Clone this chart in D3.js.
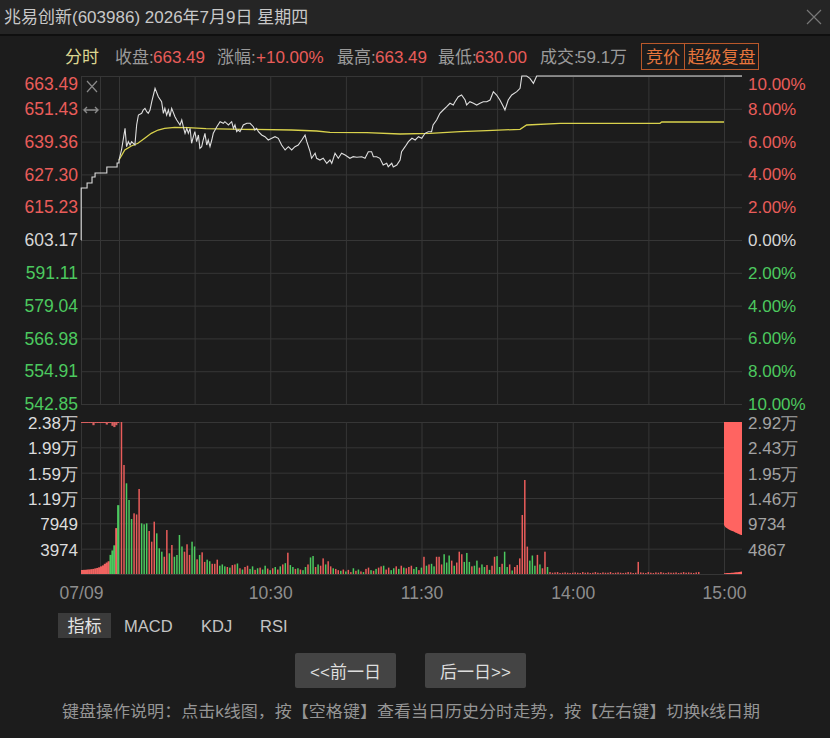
<!DOCTYPE html>
<html>
<head>
<meta charset="utf-8">
<style>
    body { margin: 0; background: #1c1c1c; }
    svg { display: block; font-family: "Liberation Sans", "Noto Sans CJK SC", sans-serif; }
    .domain { display: none; }
    .grid .tick line { stroke: #363636; }
    .grid text { display: none; }
    .lbl .tick line { display: none; }
</style>
</head>
<body>
<svg width="830" height="738"></svg>
<script src="https://d3js.org/d3.v7.min.js"></script>
<script>
// price axis (prev close 603.17, +-10%)
const priceTicks = [663.49, 651.43, 639.36, 627.30, 615.23, 603.17, 591.11, 579.04, 566.98, 554.91, 542.85];
const pctLabels = ["10.00%", "8.00%", "6.00%", "4.00%", "2.00%", "0.00%", "2.00%", "4.00%", "6.00%", "8.00%", "10.00%"];
const volTicks = [3974, 7949, 11923, 15898, 19872, 23847];
const volLabels = ["3974", "7949", "1.19万", "1.59万", "1.99万", "2.38万"];
const postVolTicks = [4867, 9734, 14601, 19468, 24335, 29202];
const postVolLabels = ["4867", "9734", "1.46万", "1.95万", "2.43万", "2.92万"];
const timeTicks = [60, 120, 180, 240];
const timeLabels = ["10:30", "11:30", "14:00", "15:00"];

// call auction 9:15-9:25 (minutes since 9:15)
const aucPriceTimes = [0, 0.05, 1.6, 2.9, 3.7, 6.8, 9.5, 10];
const aucPrices = [603.17, 622.30, 624.14, 626.34, 627.82, 630.02, 631.49, 632.59];
const aucTimes = [0, 0.5, 1, 1.5, 2, 2.5, 3, 3.5, 4, 4.5, 5, 5.5, 6, 6.5, 7, 7.5, 8, 8.5, 9, 9.5];
const aucVol = [630, 650, 660, 700, 720, 760, 800, 880, 950, 1050, 1200, 1350, 1600, 1800, 2000, 3000, 3700, 4500, 7200, 10800];
const aucDir = "rrrrrrrrrrrrrrrgggrg";
const aucUnmatched = [160, 160, 160, 160, 160, 160, 500, 160, 160, 160, 160, 160, 160, 400, 160, 160, 600, 800, 500, 160];

// intraday price (minutes since 9:30, lunch break removed)
const priceTimes = [0, 1, 2.4, 3, 3.7, 4.4, 5, 6.3, 7, 7.7, 9, 9.6, 10.3, 11, 11.6, 12.3, 13, 14.3, 15.6, 16.9,
    17.6, 18.2, 18.9, 19.6, 20.2, 20.9, 22.2, 22.9, 24.2, 24.9, 25.5, 26.2, 26.9, 27.5, 28.2, 28.8, 29.5, 30.1, 30.8, 31.5,
    32.1, 32.8, 33.4, 34.1, 34.8, 35.4, 36.1, 36.8, 37.4, 38.8, 40.1, 41.4, 42, 43.4, 44, 44.7, 45.4, 46, 46.7, 47.3,
    48, 48.7, 49.3, 50.7, 52, 53.3, 53.9, 54.6, 55.3, 56.6, 57.9, 59.2, 60.6, 61.9, 63.2, 64.5, 65.9, 67.2, 68.5, 69.8,
    71.1, 72.5, 73.8, 74.5, 75.8, 76.4, 77.8, 78.4, 79.7, 81, 82.4, 83.7, 84.4, 85.7, 87, 88.3, 89.7, 91.6, 92.9, 94.3,
    96.3, 97.6, 98.9, 100.2, 100.9, 102.2, 103.5, 104.8, 106.2, 106.8, 108.2, 108.8, 110.2, 111.5, 112.1, 113.5, 114.8, 116.2, 117.5, 118.8,
    120.1, 121.4, 122.7, 124, 124.6, 126, 127.3, 128.6, 130, 131.3, 132.6, 133.3, 134.6, 135.9, 137.3, 137.9, 139.2, 140.6, 141.9, 143.2,
    144.5, 145.9, 147.2, 148.5, 149.8, 151.1, 152.5, 153.1, 154.4, 155.8, 157.8, 159.1, 159.8, 161.7, 163, 164.4, 165.7, 240];
const prices = [632.59, 636.27, 644.25, 637.49, 639.33, 638.11, 639.33, 638.11, 645.47, 649.14, 649.77, 650.98, 651.61, 650.36, 649.77, 650.98, 654.04, 658.97, 655.88, 654.04,
    649.77, 651.61, 649.14, 650.98, 648.52, 651.61, 648.52, 647.31, 645.47, 647.31, 644.84, 642.41, 644.25, 642.41, 644.25, 638.74, 641.16, 643.00, 639.33, 641.79,
    636.90, 637.49, 639.95, 642.41, 638.11, 639.95, 637.49, 639.95, 642.41, 644.84, 646.68, 646.09, 646.68, 645.47, 646.09, 646.68, 644.25, 645.47, 643.00, 643.63,
    643.00, 644.25, 645.47, 646.09, 646.09, 644.84, 643.63, 644.25, 643.00, 641.79, 641.16, 639.95, 640.58, 641.16, 640.58, 638.11, 636.27, 637.49, 636.27, 637.49,
    638.11, 639.95, 641.79, 639.33, 635.65, 633.22, 635.06, 633.22, 632.59, 633.22, 631.38, 632.59, 631.38, 635.06, 633.22, 635.06, 634.43, 633.22, 633.81, 633.59,
    633.81, 633.22, 635.65, 635.65, 633.81, 633.81, 633.22, 630.76, 631.38, 630.13, 631.38, 630.00, 630.76, 632.59, 635.65, 637.49, 639.33, 640.58, 639.95, 641.16,
    640.58, 642.41, 643.00, 643.00, 645.47, 647.31, 649.77, 650.98, 652.20, 653.45, 652.82, 654.04, 655.88, 656.50, 654.66, 652.82, 654.04, 653.45, 652.82, 653.45,
    654.04, 654.04, 654.66, 657.72, 656.50, 654.66, 652.20, 650.98, 654.66, 656.50, 657.72, 658.97, 663.49, 663.49, 662.64, 660.80, 663.49, 663.49];

// average price line
const avgTimes = [0, 2.3, 4.9, 7.5, 10.2, 12.8, 15.5, 18.1, 22.1, 27.4, 34.5, 49.2, 68.5, 78.4, 83.7, 98.3, 111.5, 123.4, 135.3, 145.9, 159.1, 161.7, 175, 214.6, 215.3, 240];
const avgPrices = [632.59, 636.27, 637.74, 638.74, 640.58, 642.41, 643.63, 644.25, 644.62, 644.47, 644.11, 643.89, 643.63, 643.26, 642.78, 642.64, 642.16, 642.41, 643.00, 643.37, 643.89, 645.47, 646.09, 646.09, 646.57, 646.57];

// volume per minute, 9:31 .. 15:00
const volumes = [
    23847, 17100, 14230, 11610, 8630, 9520, 9340, 13340, 7950, 7800,
    7950, 6750, 5070, 8210, 6380, 4030, 3500, 2710, 6900, 3250,
    4550, 2710, 2980, 6120, 4320, 3500, 4660, 3000, 5070, 4320,
    2300, 2990, 3400, 1900, 2250, 2000, 1600, 1600, 2250, 1300,
    1500, 1200, 1100, 1000, 1400, 1500, 1650, 900, 700, 1100,
    1300, 800, 1200, 650, 900, 1000, 700, 1300, 850, 600,
    900, 1100, 700, 1200, 1500, 1700, 3340, 1400, 1100, 800,
    900, 700, 600, 1100, 1500, 2600, 2820, 1100, 1500, 1300,
    2450, 1500, 2000, 1200, 900, 800, 600, 500, 700, 400,
    650, 300, 900, 500, 700, 400, 300, 800, 1000, 600,
    500, 800, 1000, 1200, 1300, 700, 1000, 600, 900, 1200,
    800, 1300, 1000, 900, 1100, 1300, 800, 1100, 600, 1000,
    2700, 1300, 1500, 1600, 1200, 2700, 2700, 1500, 3100, 1800,
    2900, 2100, 1300, 1800, 3500, 3100, 1900, 3300, 1900, 1200,
    1300, 2100, 1000, 1500, 1100, 1400, 650, 1300, 2700, 2800,
    1100, 1600, 3500, 1100, 1500, 550, 1100, 1400, 2450, 9260,
    14750, 4300, 2100, 2900, 1300, 3000, 1500, 900, 3500, 1100,
    300, 200, 250, 300, 150, 200, 250, 200, 150, 200,
    250, 200, 150, 300, 200, 250, 150, 200, 300, 200,
    150, 250, 200, 200, 300, 150, 200, 250, 200, 150,
    200, 300, 250, 150, 200, 1900, 250, 200, 150, 300,
    200, 150, 250, 200, 300, 200, 150, 250, 200, 200,
    250, 150, 200, 300, 200, 250, 200, 150, 250, 300];
const volDir =
    "rrgggrrrgg" + "grrrgggrrg" + "rggggrrrgg" + "rgrrggrrrg" + "ggrgrrgrgr" +
    "rggrgrggrg" + "rgrgrgrggr" + "grggrggrgr" + "rgrrgrrgrg" + "rrgrgrgrrg" +
    "rgrrgrrggr" + "grgrrrggrg" + "rgrggrrrgg" + "grgrrrgggr" + "ggrggrgrrg" +
    "grggrgrrrr" + "rrgggrgrrg" + "rrrrrrrrrr" + "rrrrrrrrrr" + "rrrrrrrrrr" +
    "rrrrrrrrrr" + "rrrrrrrrrr" + "rrrrrrrrrr" + "rrrrrrrrrr";

// closing auction 14:57-15:00
const postTimes = [0, 0.25, 0.5, 0.75, 1, 1.25, 1.5, 1.75, 2, 2.25, 2.5, 2.75, 3];
const postUnmatched = [19800, 20200, 20400, 20600, 20750, 20900, 21000, 21150, 21300, 21400, 21500, 21650, 21700];
const postVol = [150, 160, 170, 180, 200, 220, 250, 280, 320, 360, 400, 450, 480];
const postPriceTimes = [0, 3];
const postPrices = [663.49, 663.49];

const RED = "#e95c5a", GREEN = "#4cc95f", WHITE = "#d6d6d6";

let svg = d3.select("svg");

let xAuc = d3.scaleLinear().domain([0, 10]).range([81, 119]);
let x = d3.scaleLinear().domain([0, 240]).range([119, 724]);
let xPost = d3.scaleLinear().domain([0, 3]).range([724, 742]);
let y = d3.scaleLinear().domain([542.85, 663.49]).range([404, 76]);
let yVol = d3.scaleLinear().domain([0, 23847]).range([574, 422]);
let yPost = d3.scaleLinear().domain([0, 29202]).range([574, 422]);

// title bar
svg.append("rect").attr("width", 830).attr("height", 34).attr("fill", "#252525");
svg.append("rect").attr("y", 34).attr("width", 830).attr("height", 2).attr("fill", "#0f0f0f");
svg.append("text").attr("x", 4).attr("y", 23).attr("fill", "#c8c8c8").style("font-size", "17px")
    .text("兆易创新(603986) 2026年7月9日 星期四");
svg.append("path").attr("d", "M807,10L821,24M821,10L807,24").attr("stroke", "#777").attr("stroke-width", 1.2);

// info row
let info = [
    ["分时", 65, "#dcd690"], ["收盘:", 115, "#9a9a9a"], ["663.49", 153, RED],
    ["涨幅:", 217, "#9a9a9a"], ["+10.00%", 256, RED], ["最高:", 337, "#9a9a9a"], ["663.49", 375, RED],
    ["最低:", 438, "#9a9a9a"], ["630.00", 475, RED], ["成交:", 540, "#9a9a9a"], ["59.1万", 577, "#9a9a9a"]
];
info.forEach(d => {
    svg.append("text").attr("x", d[1]).attr("y", 63).attr("fill", d[2]).style("font-size", "17px").text(d[0]);
});
svg.append("rect").attr("x", 641.5).attr("y", 43.5).attr("width", 117).attr("height", 26)
    .attr("fill", "none").attr("stroke", "#b9582a");
svg.append("line").attr("x1", 684.5).attr("x2", 684.5).attr("y1", 43.5).attr("y2", 69.5).attr("stroke", "#b9582a");
svg.append("text").attr("x", 663).attr("y", 63).attr("text-anchor", "middle").attr("fill", "#e8763c").style("font-size", "17px").text("竞价");
svg.append("text").attr("x", 721.5).attr("y", 63).attr("text-anchor", "middle").attr("fill", "#e8763c").style("font-size", "17px").text("超级复盘");

// horizontal grid
svg.append("g").attr("class", "grid").attr("transform", "translate(81,0)")
    .call(d3.axisRight(y).tickValues(priceTicks).tickSize(661).tickFormat(""));
svg.append("g").attr("class", "grid").attr("transform", "translate(81,0)")
    .call(d3.axisRight(yVol).tickValues([0].concat(volTicks)).tickSize(661).tickFormat(""));

// vertical grid
[[404, 328], [574, 152]].forEach(p => {
    svg.append("g").attr("class", "grid").attr("transform", `translate(0,${p[0]})`)
        .call(d3.axisBottom(x).tickValues([0, 30, 60, 90, 120, 150, 180, 210, 240]).tickSize(-p[1]).tickFormat(""))
        .selectAll("line").attr("stroke", d => (d === 0 || d === 240) ? "#4a4a4a" : "#363636");
    svg.append("g").attr("class", "grid").attr("transform", `translate(0,${p[0]})`)
        .call(d3.axisBottom(xAuc).tickValues([0, 5]).tickSize(-p[1]).tickFormat(""))
        .selectAll("line").attr("stroke", d => d === 0 ? "#444" : "#2c2c2c");
});

// price axes
let leftP = svg.append("g").attr("class", "lbl").attr("transform", "translate(81,0)")
    .call(d3.axisLeft(y).tickValues(priceTicks).tickSize(0).tickPadding(3).tickFormat(d3.format(".2f")));
leftP.selectAll("text").style("font-size", "17.5px")
    .attr("fill", (d, i) => i < 5 ? RED : (i === 5 ? WHITE : GREEN))
    .attr("y", (d, i) => i === 0 ? 8 : 0);
let rightP = svg.append("g").attr("class", "lbl").attr("transform", "translate(745,0)")
    .call(d3.axisRight(y).tickValues(priceTicks).tickSize(0).tickPadding(3).tickFormat((d, i) => pctLabels[i]));
rightP.selectAll("text").style("font-size", "17px")
    .attr("fill", (d, i) => i < 5 ? RED : (i === 5 ? WHITE : GREEN))
    .attr("y", (d, i) => i === 0 ? 8 : 0);

// volume axes
let leftV = svg.append("g").attr("class", "lbl").attr("transform", "translate(81,0)")
    .call(d3.axisLeft(yVol).tickValues(volTicks).tickSize(0).tickPadding(3).tickFormat((d, i) => volLabels[i]));
leftV.selectAll("text").style("font-size", "17px").attr("fill", "#dcdcdc").attr("y", 1);
let rightV = svg.append("g").attr("class", "lbl").attr("transform", "translate(745,0)")
    .call(d3.axisRight(yPost).tickValues(postVolTicks).tickSize(0).tickPadding(3).tickFormat((d, i) => postVolLabels[i]));
rightV.selectAll("text").style("font-size", "17px").attr("fill", "#a3a3a3").attr("y", 1);

// time axis
let tAxis = svg.append("g").attr("class", "lbl").attr("transform", "translate(0,574)")
    .call(d3.axisBottom(x).tickValues(timeTicks).tickSize(0).tickFormat((d, i) => timeLabels[i]));
let dAxis = svg.append("g").attr("class", "lbl").attr("transform", "translate(0,574)")
    .call(d3.axisBottom(xAuc).tickValues([0]).tickSize(0).tickFormat(() => "07/09"));
[tAxis, dAxis].forEach(a => a.selectAll("text").attr("y", 19).attr("dy", "0.35em")
    .style("font-size", "17.5px").attr("fill", "#8e8e8e"));

// volume: opening auction
let aucW = xAuc(0.5) - xAuc(0);
svg.append("g").selectAll("rect").data(aucVol).join("rect")
    .attr("x", (d, i) => xAuc(aucTimes[i]))
    .attr("width", aucW + 0.3)
    .attr("y", d => yVol(d))
    .attr("height", d => yVol(0) - yVol(d))
    .attr("fill", (d, i) => aucDir[i] === "r" ? "#f06461" : GREEN);
svg.append("g").selectAll("rect").data(aucUnmatched).join("rect")
    .attr("x", (d, i) => xAuc(aucTimes[i]))
    .attr("width", aucW + 0.3)
    .attr("y", yVol(23847))
    .attr("height", d => yVol(0) - yVol(d))
    .attr("fill", "#d86060");

// volume: continuous session
svg.append("g").selectAll("rect").data(volumes).join("rect")
    .attr("x", (d, i) => x(i + 1) - 0.8)
    .attr("width", 1.5)
    .attr("y", d => yVol(d))
    .attr("height", d => yVol(0) - yVol(d))
    .attr("fill", (d, i) => volDir[i] === "r" ? RED : GREEN);

// volume: closing auction (unmatched from the top, matched from the bottom)
svg.append("path").datum(postUnmatched)
    .attr("d", d3.area().x((d, i) => xPost(postTimes[i])).y0(yPost(29202)).y1(d => yPost(29202) + yPost(0) - yPost(d)).curve(d3.curveMonotoneX))
    .attr("fill", "#ff6461");
svg.append("path").datum(postVol)
    .attr("d", d3.area().x((d, i) => xPost(postTimes[i])).y0(yPost(0)).y1(d => yPost(d)))
    .attr("fill", "#ff6461");

// price lines
svg.append("path").datum(aucPrices)
    .attr("d", d3.line().x((d, i) => xAuc(aucPriceTimes[i])).y(d => y(d)).curve(d3.curveStepAfter))
    .attr("fill", "none").attr("stroke", "#dedede").attr("stroke-width", 1.1);
svg.append("path").datum(avgPrices)
    .attr("d", d3.line().x((d, i) => x(avgTimes[i])).y(d => y(d)))
    .attr("fill", "none").attr("stroke", "#d9d24c").attr("stroke-width", 1.3);
svg.append("path").datum(prices)
    .attr("d", d3.line().x((d, i) => x(priceTimes[i])).y(d => y(d)))
    .attr("fill", "none").attr("stroke", "#dedede").attr("stroke-width", 1.1);
svg.append("path").datum(postPrices)
    .attr("d", d3.line().x((d, i) => xPost(postPriceTimes[i])).y(d => y(d)))
    .attr("fill", "none").attr("stroke", "#dedede").attr("stroke-width", 1.1);

// small icons in the chart corner
svg.append("path").attr("d", "M87,81L97,92M97,81L87,92").attr("stroke", "#8a8a8a").attr("stroke-width", 1.2);
svg.append("path").attr("d", "M84,110H98M87,107L84,110L87,113M95,107L98,110L95,113")
    .attr("fill", "none").attr("stroke", "#8a8a8a").attr("stroke-width", 1.4);

// indicator tabs
svg.append("rect").attr("x", 58).attr("y", 613).attr("width", 53).attr("height", 25).attr("fill", "#3b3b3b");
svg.append("text").attr("x", 84.5).attr("y", 632).attr("text-anchor", "middle").attr("fill", "#e4e4e4").style("font-size", "17px").text("指标");
[["MACD", 124], ["KDJ", 201], ["RSI", 260]].forEach(d => {
    svg.append("text").attr("x", d[1]).attr("y", 632).attr("fill", "#c4c4c4").style("font-size", "16.5px").text(d[0]);
});

// day buttons
[["<<前一日", 295], ["后一日>>", 425]].forEach(d => {
    svg.append("rect").attr("x", d[1]).attr("y", 653).attr("width", 101).attr("height", 35).attr("rx", 2).attr("fill", "#444");
    svg.append("text").attr("x", d[1] + 50.5).attr("y", 677.5).attr("text-anchor", "middle")
        .attr("fill", "#dedede").style("font-size", "17px").text(d[0]);
});

svg.append("text").attr("x", 62).attr("y", 717).attr("fill", "#959595").style("font-size", "16px")
    .attr("textLength", 698).attr("lengthAdjust", "spacingAndGlyphs")
    .text("键盘操作说明：点击k线图，按【空格键】查看当日历史分时走势，按【左右键】切换k线日期");
</script>
</body>
</html>
